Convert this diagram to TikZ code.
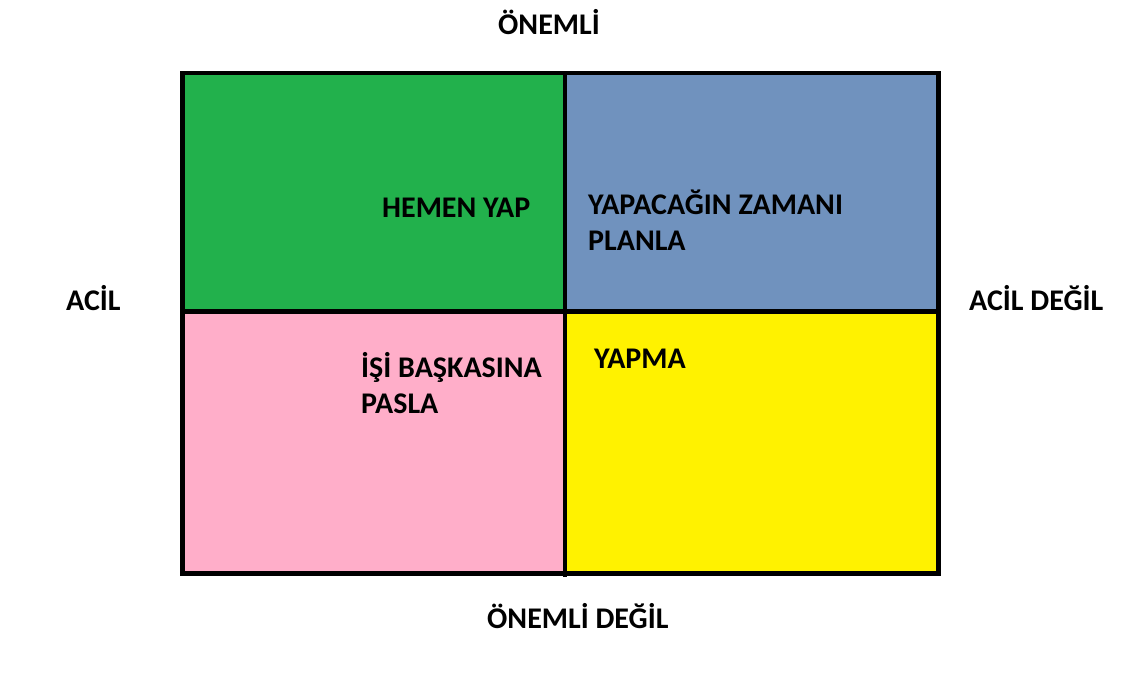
\documentclass[tikz,border=0pt]{standalone}
\usepackage{fontspec}
\setmainfont{Carlito}
\usetikzlibrary{positioning}
\definecolor{QGreen}{HTML}{22B14C}
\definecolor{QBlue}{HTML}{7092BE}
\definecolor{QPink}{HTML}{FFAEC9}
\definecolor{QYellow}{HTML}{FFF200}
\definecolor{Ink}{HTML}{000000}

\begin{document}
\begin{tikzpicture}[x=1pt,y=-1pt,
    every node/.style={font=\fontsize{30}{36}\selectfont\bfseries,text=Ink,inner sep=0pt},
    lbl/.style={anchor=base west,align=left},
    grid line/.style={Ink,line width=4.6pt}]
    \useasboundingbox (0,0) rectangle (1124,673);

    % quadrants
    \fill[QGreen]  (182.5,73)   rectangle (565,311.5);
    \fill[QBlue]   (565,73)     rectangle (938.5,311.5);
    \fill[QPink]   (182.5,311.5) rectangle (565,573.5);
    \fill[QYellow] (565,311.5)  rectangle (938.5,573.5);

    \draw[grid line] (182.5,73) rectangle (938.5,573.5);
    \draw[grid line] (565,73) -- (565,577);
    \draw[grid line] (182.5,311.5) -- (941,311.5);

    % axis labels
    \node[anchor=base] (imp) at (549,34) {ÖNEMLİ};
    \node[lbl] (urg) at (66,310) {ACİL};
    \node[lbl] (noturg) at (969,310) {ACİL DEĞİL};
    \node[lbl] (notimp) at (487,628) {ÖNEMLİ DEĞİL};

    % quadrant labels (base = last line)
    \node[lbl] (doit) at (382,217) {HEMEN YAP};
    \node[lbl] (plan) at (588,250) {YAPACAĞIN ZAMANI\\PLANLA};
    \node[lbl] (deleg) at (361,413) {İŞİ BAŞKASINA\\PASLA};
    \node[lbl] (drop) at (594,368) {YAPMA};
  \end{tikzpicture}
\end{document}
